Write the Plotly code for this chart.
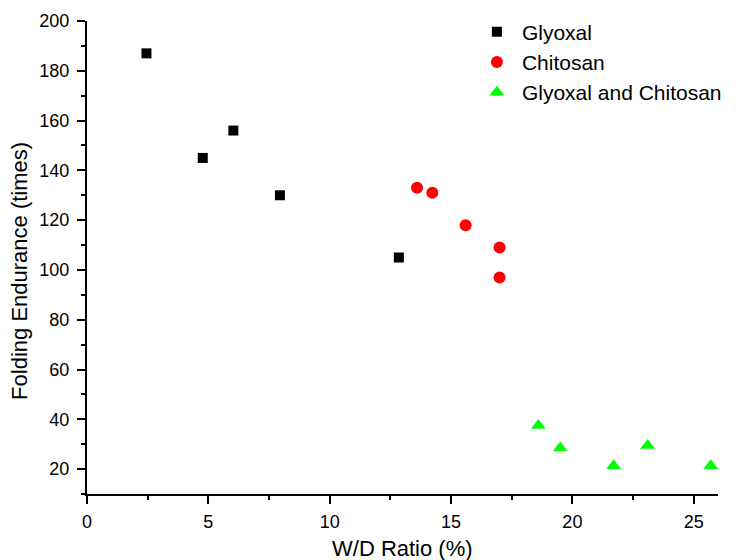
import plotly.graph_objects as go

# Data
glyoxal_x = [2.45, 4.77, 6.03, 7.95, 12.85]
glyoxal_y = [187, 145, 156, 130, 105]

chitosan_x = [13.6, 14.23, 15.6, 17.0, 17.0]
chitosan_y = [133, 131, 118, 109, 97]

both_x = [18.6, 19.5, 21.7, 23.1, 25.7]
both_y = [37.5, 28.5, 21.3, 29.5, 21.3]

series_names = ["Glyoxal", "Chitosan", "Glyoxal and Chitosan"]

x_title = "W/D Ratio (%)"
y_title = "Folding Endurance (times)"

FONT = "Arial, 'Liberation Sans', sans-serif"

fig = go.Figure()
fig.add_trace(go.Scatter(x=glyoxal_x, y=glyoxal_y, mode="markers", name=series_names[0],
                         marker=dict(symbol="square", size=10, color="black", line=dict(width=0))))
fig.add_trace(go.Scatter(x=chitosan_x, y=chitosan_y, mode="markers", name=series_names[1],
                         marker=dict(symbol="circle", size=12, color="#ff0000", line=dict(width=0))))
fig.add_trace(go.Scatter(x=both_x, y=both_y, mode="markers", name=series_names[2],
                         marker=dict(symbol="triangle-up", size=13, color="#00ff00", line=dict(width=0))))

axis_common = dict(
    showgrid=False, zeroline=False, showline=True, linecolor="black", linewidth=2,
    ticks="outside", ticklen=8, tickwidth=2, tickcolor="black",
    tickfont=dict(family=FONT, size=18, color="black"),
    mirror=False, automargin=False,
)

fig.update_xaxes(range=[0, 26], dtick=5, tick0=0, ticklabelstandoff=2,
                 minor=dict(dtick=2.5, ticks="outside", ticklen=4, tickwidth=2, tickcolor="black"),
                 **axis_common)
fig.update_yaxes(range=[10, 200], dtick=20, tick0=0, ticklabelstandoff=4,
                 minor=dict(dtick=10, ticks="outside", ticklen=4, tickwidth=2, tickcolor="black"),
                 **axis_common)

fig.add_annotation(text=y_title, xref="paper", yref="paper", x=-0.1067, y=0.471,
                   xanchor="center", yanchor="middle", textangle=-90, showarrow=False,
                   font=dict(family=FONT, size=22, color="black"))
fig.add_annotation(text=x_title, xref="paper", yref="paper", x=0.5, y=-0.116,
                   xanchor="center", yanchor="middle", showarrow=False,
                   font=dict(family=FONT, size=22, color="black"))

fig.update_layout(
    width=739, height=560,
    margin=dict(l=87, r=15, t=21, b=66),
    paper_bgcolor="white", plot_bgcolor="white",
    font=dict(family=FONT, color="black"),
    legend=dict(x=0.610, y=1.02, xanchor="left", yanchor="top",
                font=dict(family=FONT, size=21, color="black"),
                bgcolor="rgba(0,0,0,0)", itemwidth=40, tracegroupgap=0),
)

fig.write_html(
    "out.html",
    config={"displayModeBar": False},
    post_script="document.body.style.margin='0';document.body.style.overflow='hidden';",
)
